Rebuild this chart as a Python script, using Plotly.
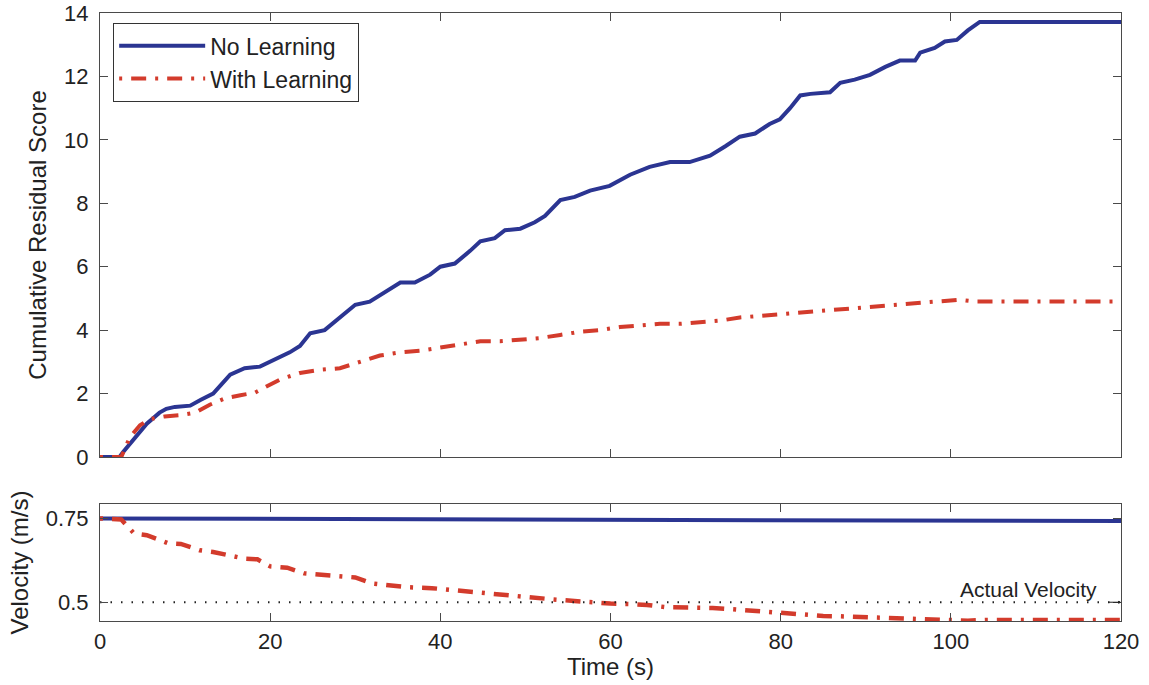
import plotly.graph_objects as go

# ---- data ----
t_no_learning = [0, 2.3, 2.7, 3.9, 5.5, 7.0, 7.8, 8.8, 10.6, 11.8, 13.3, 15.3, 17.0, 18.8, 20.0,
                 22.3, 23.5, 24.7, 26.4, 28.2, 30.0, 31.7, 33.5, 35.3, 37.0, 38.8, 40.0, 41.7,
                 43.5, 44.7, 46.4, 47.6, 49.4, 51.1, 52.3, 54.1, 55.8, 57.6, 59.9, 62.3, 64.6,
                 67.0, 69.3, 71.7, 73.5, 75.2, 77.0, 78.7, 79.9, 81.1, 82.3, 83.5, 85.8, 87.0,
                 88.7, 90.5, 92.3, 94.0, 95.8, 96.4, 98.1, 99.3, 100.7, 102.0, 103.4, 120]
score_no_learning = [0, 0, 0.15, 0.55, 1.05, 1.4, 1.52, 1.58, 1.62, 1.8, 2.0, 2.6, 2.8, 2.85, 3.0,
                     3.3, 3.5, 3.9, 4.0, 4.4, 4.8, 4.9, 5.2, 5.5, 5.5, 5.75, 6.0, 6.1,
                     6.5, 6.8, 6.9, 7.15, 7.2, 7.4, 7.6, 8.1, 8.2, 8.4, 8.55, 8.9, 9.15,
                     9.3, 9.3, 9.5, 9.8, 10.1, 10.2, 10.5, 10.65, 11.0, 11.4, 11.45, 11.5, 11.8,
                     11.9, 12.05, 12.3, 12.5, 12.5, 12.75, 12.9, 13.1, 13.15, 13.45, 13.72, 13.72]

t_with_learning = [0, 2.5, 3.5, 4.7, 5.9, 7.6, 9.4, 11.2, 12.9, 14.7, 16.5, 18.2, 19.4, 21.2,
                   23.5, 25.9, 28.2, 30.6, 32.9, 35.3, 37.6, 40.0, 42.3, 44.7, 47.0, 49.4,
                   51.7, 54.1, 56.4, 58.8, 61.1, 63.5, 65.8, 68.2, 70.5, 72.9, 75.2, 77.6,
                   79.9, 82.3, 84.6, 87.0, 89.3, 91.7, 94.0, 96.4, 98.7, 101.0, 103.0, 120]
score_with_learning = [0, 0, 0.62, 1.0, 1.2, 1.28, 1.32, 1.4, 1.65, 1.85, 1.95, 2.03, 2.2, 2.45,
                       2.65, 2.75, 2.8, 3.0, 3.2, 3.3, 3.35, 3.45, 3.55, 3.65, 3.65, 3.7,
                       3.75, 3.85, 3.95, 4.0, 4.1, 4.15, 4.2, 4.2, 4.25, 4.3, 4.4, 4.45,
                       4.5, 4.55, 4.6, 4.65, 4.7, 4.75, 4.8, 4.85, 4.9, 4.96, 4.9, 4.9]

t_vel_no_learning = [0, 120]
vel_no_learning = [0.75, 0.742]

t_vel_with_learning = [0, 2.5, 4.0, 5.5, 8.0, 9.5, 11.7, 13.3, 17.0, 18.5, 20.0, 22.0, 24.0, 26.0,
                       28.0, 30.0, 32.0, 34.0, 36.0, 39.0, 41.5, 43.0, 45.5, 47.0, 49.0, 50.5,
                       53.0, 54.5, 58.4, 60.0, 62.7, 64.3, 66.6, 68.0, 70.5, 72.0, 74.4, 76.0,
                       79.5, 81.0, 83.5, 85.0, 87.0, 89.0, 91.5, 93.0, 95.4, 97.2, 100.0, 102.0,
                       104.0, 120]
vel_with_learning = [0.75, 0.747, 0.705, 0.700, 0.676, 0.674, 0.655, 0.650, 0.630, 0.628, 0.607,
                     0.603, 0.586, 0.583, 0.577, 0.574, 0.556, 0.551, 0.545, 0.542, 0.536, 0.533,
                     0.524, 0.521, 0.518, 0.515, 0.509, 0.506, 0.497, 0.496, 0.494, 0.492, 0.485,
                     0.485, 0.485, 0.483, 0.479, 0.476, 0.470, 0.468, 0.461, 0.459, 0.458, 0.456,
                     0.455, 0.453, 0.449, 0.448, 0.445, 0.445, 0.447, 0.447]

t_actual = [0, 120]
vel_actual = [0.5, 0.5]

x_ticks = [0, 20, 40, 60, 80, 100, 120]
score_ticks = [0, 2, 4, 6, 8, 10, 12, 14]
vel_ticks = [0.5, 0.75]
vel_tick_labels = ["0.5", "0.75"]

BLUE = "#2b3592"
RED = "#d33b2c"
AXC = "#4a4a4a"
FONT = "Liberation Sans, Arial, sans-serif"
DASHDOT = "3px,9px,15px,9px"

fig = go.Figure()
fig.add_trace(go.Scatter(x=t_no_learning, y=score_no_learning, mode="lines", name="No Learning",
                         line=dict(color=BLUE, width=4), xaxis="x", yaxis="y"))
fig.add_trace(go.Scatter(x=t_with_learning, y=score_with_learning, mode="lines", name="With Learning",
                         line=dict(color=RED, width=4, dash=DASHDOT), xaxis="x", yaxis="y"))
fig.add_trace(go.Scatter(x=t_vel_no_learning, y=vel_no_learning, mode="lines", showlegend=False,
                         line=dict(color=BLUE, width=4), xaxis="x2", yaxis="y2"))
fig.add_trace(go.Scatter(x=t_vel_with_learning, y=vel_with_learning, mode="lines", showlegend=False,
                         line=dict(color=RED, width=4.5, dash=DASHDOT), xaxis="x2", yaxis="y2"))
fig.add_trace(go.Scatter(x=t_actual, y=vel_actual, mode="lines", showlegend=False,
                         line=dict(color="#222222", width=2, dash="1.5px,9px"), xaxis="x2", yaxis="y2"))

common = dict(showline=True, linecolor=AXC, linewidth=1.2, mirror="ticks", ticks="inside",
              ticklen=8, tickcolor=AXC, tickwidth=1.2, showgrid=False, zeroline=False,
              automargin=False, ticklabeloverflow="allow",
              tickfont=dict(size=22, color="#222222", family=FONT))

fig.update_layout(
    width=1149, height=685,
    margin=dict(l=100, r=28, t=13, b=64),
    paper_bgcolor="white", plot_bgcolor="white",
    font=dict(family=FONT, color="#222222"),
    xaxis=dict(domain=[0, 1], anchor="y", range=[0, 120], tickvals=x_ticks,
               showticklabels=False, **common),
    yaxis=dict(domain=[0.2697, 1], anchor="x", range=[0, 14], tickvals=score_ticks,
               ticklabelstandoff=6,
               title=dict(text="Cumulative Residual Score", font=dict(size=24), standoff=10),
               **common),
    xaxis2=dict(domain=[0, 1], anchor="y2", range=[0, 120], tickvals=x_ticks,
                ticklabelstandoff=0,
                title=dict(text="Time (s)", font=dict(size=24), standoff=2),
                **common),
    yaxis2=dict(domain=[0, 0.1924], anchor="x2", range=[0.444, 0.793], tickvals=vel_ticks,
                ticktext=vel_tick_labels, ticklabelstandoff=6,
                title=dict(text="Velocity (m/s)", font=dict(size=24), standoff=10),
                **common),
    legend=dict(x=0.0127, y=0.9835, xanchor="left", yanchor="top",
                bgcolor="white", bordercolor="#333333", borderwidth=1.2,
                font=dict(size=23, color="#222222", family=FONT), itemwidth=86,
                tracegroupgap=0),
    annotations=[
        dict(x=117.4, y=0.537, xref="x2", yref="y2", text="Actual Velocity", showarrow=False,
             xanchor="right", yanchor="middle", font=dict(size=21, color="#222222", family=FONT)),
        dict(x=120, y=0.5, xref="x2", yref="y2", ax=-14, ay=0, text="", showarrow=True,
             arrowhead=2, arrowsize=0.6, arrowwidth=1, arrowcolor="#222222"),
    ],
)

fig.write_html("out.html")
